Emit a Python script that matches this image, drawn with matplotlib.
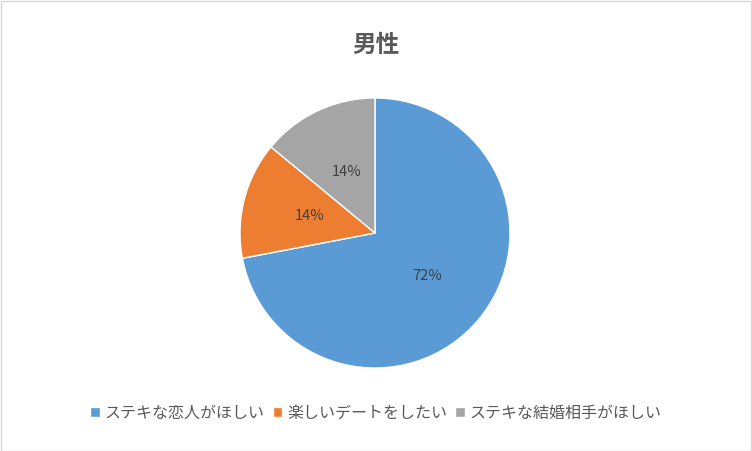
import matplotlib.pyplot as plt
from matplotlib.patches import Rectangle

plt.rcParams['font.family'] = ['Noto Sans CJK JP', 'DejaVu Sans']

labels = ['ステキな恋人がほしい', '楽しいデートをしたい', 'ステキな結婚相手がほしい']
values = [72, 14, 14]
colors = ['#5B9BD5', '#ED7D31', '#A5A5A5']

fig = plt.figure(figsize=(7.52, 4.51), dpi=100)
fig.patches.append(Rectangle((0.001, 0.001), 0.998, 0.997, transform=fig.transFigure,
                             fill=False, edgecolor='#D9D9D9', linewidth=1))

ax = fig.add_axes([(375 - 135) / 752, (451 - 233 - 135) / 451, 270 / 752, 270 / 451])
wedges, texts, autotexts = ax.pie(values, colors=colors, startangle=90, counterclock=False,
                                  autopct='%d%%', pctdistance=0.5,
                                  wedgeprops=dict(edgecolor='white', linewidth=1))
for t in autotexts:
    t.set_color('#404040')
    t.set_fontsize(10.5)
ax.set_xlim(-1, 1)
ax.set_ylim(-1, 1)
ax.set_aspect('equal')

fig.text(0.5, 1 - 45 / 451, '男性', ha='center', va='center', fontsize=17,
         fontweight='bold', color='#595959')

fig.legend(wedges, labels, loc='center', bbox_to_anchor=(0.5, 1 - 413 / 451), ncol=3,
           frameon=False, fontsize=11.5, handlelength=0.6, handleheight=0.6,
           handletextpad=0.3, columnspacing=0.5, labelcolor='#595959')

fig.savefig('out.png', dpi=100)
